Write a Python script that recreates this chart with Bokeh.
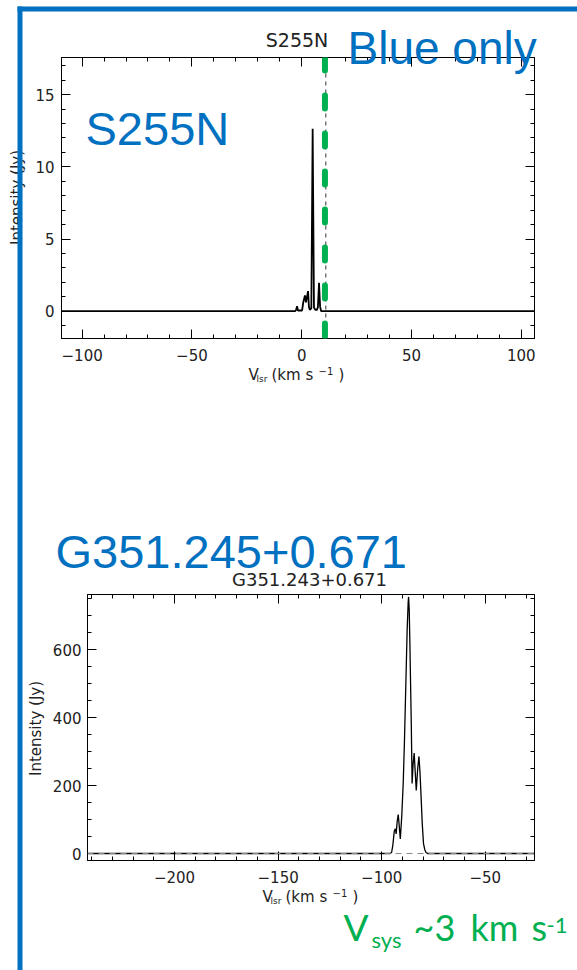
import numpy as np
from bokeh.plotting import figure
from bokeh.models import (Range1d, FixedTicker, LinearAxis, Label, Span,
                          BoxAnnotation, CustomJSTickFormatter)
from bokeh.layouts import column
from bokeh.embed import file_html
from bokeh.resources import INLINE

# ---------------- data ----------------
s255n_title = "S255N"
s255n_velocity = [-109.4, -3.0, -2.5, -2.1, -1.7, 0.2, 0.7, 1.1, 1.5, 1.95, 2.4, 2.9,
                  3.3, 3.7, 4.4, 5.0, 5.6, 6.2, 7.0, 7.4, 7.9, 8.4, 8.9, 106.0]
s255n_intensity = [0.0, 0.0, 0.1, 0.35, 0.05, 0.05, 0.6, 0.85, 1.09, 0.62, 0.95, 1.39,
                   0.3, 0.1, 0.2, 12.63, 0.25, 0.1, 0.1, 0.3, 1.97, 0.3, 0.0, 0.0]
s255n_x_ticks = [-100, -50, 0, 50, 100]
s255n_y_ticks = [0, 5, 10, 15]
s255n_marker_velocity = 10.6   # green "blue only" divider
s255n_dash_velocity = 11.0     # thin dashed line in the spectrum plot

g351_title = "G351.243+0.671"
g351_velocity = [-242.0, -96.0, -95.2, -94.6, -93.9, -93.4, -93.0, -92.5, -92.0, -91.5,
                 -91.0, -90.3, -89.6, -89.0, -88.4, -87.7, -87.2, -87.0, -86.7, -86.4,
                 -85.7, -85.3, -84.8, -84.3, -83.8, -83.3, -82.6, -82.0, -81.5, -81.1,
                 -80.4, -79.8, -79.2, -78.6, -77.8, -26.2]
g351_intensity = [0, 0, 3, 25, 66, 73, 58, 95, 115, 80,
                  43, 110, 206, 330, 481, 658, 740, 756, 720, 628,
                  383, 206, 265, 296, 240, 186, 250, 286, 240, 186,
                  88, 29, 12, 3, 0, 0]
g351_x_ticks = [-200, -150, -100, -50]
g351_y_ticks = [0, 200, 400, 600]

slide_label_top = "S255N"
slide_label_blue = "Blue only"
slide_label_bottom = "G351.245+0.671"

# ---------------- style ----------------
W = 577
H1 = 485
H2 = 485
HT = H1 + H2
BLUE = "#0070C0"
GREEN = "#00B050"
AX_FONT = "DejaVu Sans"
BIG_FONT = "Liberation Sans"
TXT = "#222222"


def minus(v):
    return str(v).replace("-", "\u2212")


def make_fig(H, fl, fr, ft, fb, xr, yr):
    p = figure(width=W, height=H, x_range=Range1d(*xr), y_range=Range1d(*yr),
               output_backend="svg", toolbar_location=None,
               x_axis_location=None, y_axis_location=None,
               min_border_left=fl, min_border_right=W - fr,
               min_border_top=ft, min_border_bottom=H - fb,
               frame_align=False)
    p.grid.grid_line_color = None
    p.outline_line_color = "black"
    p.outline_line_width = 1
    p.background_fill_color = "white"
    p.border_fill_color = "white"
    return p


def add_axes(p, xt, xstep, yt, ystep, xr, yr, ystandoff):
    xminor = [float(v) for v in np.arange(np.ceil(xr[0] / xstep) * xstep, xr[1], xstep)]
    yminor = [float(v) for v in np.arange(np.ceil(yr[0] / ystep) * ystep, yr[1], ystep)]
    for loc in ("below", "above", "left", "right"):
        if loc in ("below", "above"):
            tk = FixedTicker(ticks=xt, minor_ticks=xminor)
            ov = {t: minus(t) for t in xt}
        else:
            tk = FixedTicker(ticks=yt, minor_ticks=yminor)
            ov = {t: minus(t) for t in yt}
        ax = LinearAxis(ticker=tk)
        ax.axis_line_color = "black"
        ax.major_tick_in = 9
        ax.major_tick_out = 0
        ax.minor_tick_in = 4
        ax.minor_tick_out = 0
        ax.major_tick_line_color = "black"
        ax.minor_tick_line_color = "black"
        ax.major_label_text_font = AX_FONT
        ax.major_label_text_font_size = "15px"
        ax.major_label_text_color = TXT
        if loc in ("below", "left"):
            ax.major_label_overrides = ov
            ax.major_label_standoff = 10 if loc == "below" else ystandoff
        else:
            ax.formatter = CustomJSTickFormatter(code="return ''")
            ax.major_label_standoff = 0
        p.add_layout(ax, loc)


# ---------------- top plot: S255N ----------------
x1r = (-109.4, 106.05)
y1r = (-1.89, 17.57)
p1 = make_fig(H1, 61, 534, 57, 338, x1r, y1r)
add_axes(p1, s255n_x_ticks, 10, s255n_y_ticks, 1, x1r, y1r, 7)
p1.line(s255n_velocity, s255n_intensity, line_color="black", line_width=1.8)
p1.add_layout(Span(location=s255n_dash_velocity, dimension="height",
                   line_color="#333333", line_width=1, line_dash="4 4"))
p1.add_layout(Span(location=s255n_marker_velocity, dimension="height",
                   line_color=GREEN, line_width=6, line_dash="13 25", line_cap="round"))

# ---------------- bottom plot: G351 ----------------
x2r = (-242.05, -26.2)
y2r = (-20.6, 763.1)
p2 = make_fig(H2, 87, 534, 594 - H1, 860 - H1, x2r, y2r)
add_axes(p2, g351_x_ticks, 10, g351_y_ticks, 50, x2r, y2r, 6)
p2.line(g351_velocity, g351_intensity, line_color="black", line_width=1.3)
p2.add_layout(Span(location=0, dimension="width", line_color="#888888",
                   line_width=1, line_dash="6 5"))

# ---------------- overlay with slide texts (page pixel coordinates) ----------------
deco = figure(width=W, height=HT, x_range=Range1d(0, W), y_range=Range1d(HT, 0),
              output_backend="svg", toolbar_location=None,
              x_axis_location=None, y_axis_location=None,
              min_border=0, frame_align=False)
deco.grid.grid_line_color = None
deco.outline_line_color = None
deco.background_fill_color = None
deco.border_fill_color = None
deco.styles = {"margin-top": f"-{HT}px"}

BASE_SHIFT = 0.38   # em; compensates the baseline placement of Label text


def lab(x, y, text, size, color, font, align="left", baseline="alphabetic", angle=0.0):
    if baseline == "alphabetic":
        y = y - BASE_SHIFT * size
    deco.add_layout(Label(x=x, y=y, text=text, text_font=font,
                          text_font_size=f"{size}px", text_color=color,
                          text_align=align, text_baseline=baseline, angle=angle))


def box(x0, x1, y0, y1, color):
    deco.add_layout(BoxAnnotation(left=x0, right=x1, top=y0, bottom=y1,
                                  fill_color=color, fill_alpha=1.0, line_color=None))


def vlsr_label(vx, base):
    lab(vx, base, "V", 15, TXT, AX_FONT)
    lab(vx + 8, base + 2, "lsr", 9, TXT, AX_FONT)
    lab(vx + 23, base, "(km  s", 15, TXT, AX_FONT)
    lab(vx + 70, base - 6, "\u22121", 10, TXT, AX_FONT)
    lab(vx + 90, base, ")", 15, TXT, AX_FONT)


# top plot texts
lab(296.5, 47, s255n_title, 19, TXT, AX_FONT, align="center")
vlsr_label(248, 380)
lab(16, 197, "Intensity (Jy)", 15, TXT, AX_FONT, align="center",
    baseline="middle", angle=np.pi / 2)
lab(85, 145.7, slide_label_top, 47, BLUE, BIG_FONT)
lab(347, 65, slide_label_blue, 46, BLUE, BIG_FONT)

# bottom plot texts
lab(309, 585.7, g351_title, 18, TXT, AX_FONT, align="center")
vlsr_label(262, 902)
lab(35.5, 728, "Intensity (Jy)", 15, TXT, AX_FONT, align="center",
    baseline="middle", angle=np.pi / 2)
lab(55, 568.5, slide_label_bottom, 47, BLUE, BIG_FONT)

lab(343, 940, "V", 37, GREEN, "Lato")
lab(371, 947, "sys", 22, GREEN, "Lato")
lab(413, 940, "~3", 36, GREEN, "Lato")
lab(470, 940, "km", 36, GREEN, "Lato")
lab(531, 940, "s", 36, GREEN, "Lato")
lab(546, 933, "-1", 22, GREEN, "Lato")

# slide frame
box(17, 577, 6, 11, BLUE)
box(17, 22, 6, HT, BLUE)

layout = column(p1, p2, deco, spacing=0)
open("out.html", "w").write(file_html(layout, INLINE))
